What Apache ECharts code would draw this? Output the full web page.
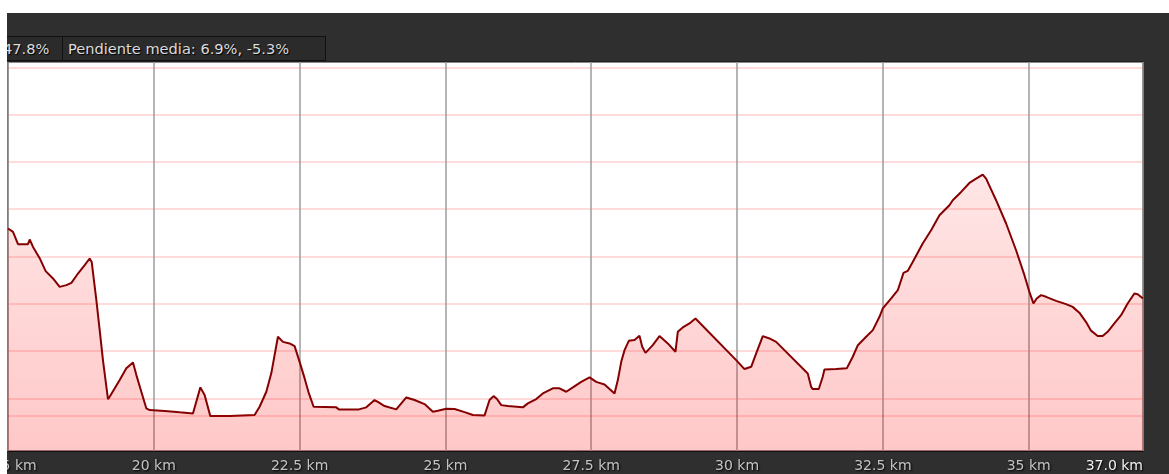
<!DOCTYPE html>
<html>
<head>
<meta charset="utf-8">
<script src="https://cdn.jsdelivr.net/npm/echarts@6/dist/echarts.min.js"></script>
<style>
  body { margin: 0; background: #fff; width: 1169px; height: 474px; overflow: hidden; position: relative; }
  #wrap { position: absolute; left: 7px; top: 13px; width: 1162px; height: 461px; background: #2f2f2f; }
  #chart { position: absolute; left: 0; top: 0; width: 1162px; height: 461px; }
  .box { position: absolute; top: 36px; height: 25px; background: #2b2b2b; border: 1px solid #111;
         color: #dcdcdc; font: 14.6px "DejaVu Sans", sans-serif; line-height: 23px; overflow: hidden;
         white-space: nowrap; text-shadow: 1px 1px 1px #000; box-sizing: border-box; }
  #b1 { left: 7px; width: 56px; border-left: none; }
  #b1 span { position: absolute; left: -4px; }
  #b2 { left: 62px; width: 264px; padding-left: 5px; }
</style>
</head>
<body>
<div id="wrap"><div id="chart"></div></div>
<div class="box" id="b1"><span>47.8%</span></div>
<div class="box" id="b2">Pendiente media: 6.9%, -5.3%</div>
<script>
// distancia (km) y altitud (m) del perfil
var distKm = [17.5, 17.586, 17.671, 17.843, 17.872, 17.929, 18.043, 18.146, 18.271, 18.386,
  18.501, 18.587, 18.7, 18.815, 18.9, 18.935, 19.015, 19.072, 19.128, 19.214,
  19.243, 19.415, 19.529, 19.643, 19.701, 19.786, 19.872, 19.929, 20.186, 20.443,
  20.671, 20.798, 20.871, 20.969, 21.3, 21.329, 21.728, 21.814, 21.929, 22.015,
  22.128, 22.214, 22.328, 22.414, 22.5, 22.586, 22.659, 22.74, 23.129, 23.173,
  23.516, 23.643, 23.785, 23.842, 23.956, 24.157, 24.329, 24.471, 24.642, 24.785,
  24.87, 25.014, 25.157, 25.328, 25.47, 25.671, 25.756, 25.825, 25.881, 25.957,
  26.07, 26.327, 26.413, 26.557, 26.67, 26.756, 26.841, 26.956, 27.071, 27.185,
  27.328, 27.471, 27.585, 27.728, 27.899, 27.956, 28.014, 28.071, 28.144, 28.242,
  28.327, 28.374, 28.43, 28.555, 28.67, 28.812, 28.944, 28.984, 29.069, 29.184,
  29.287, 29.985, 30.127, 30.242, 30.328, 30.441, 30.556, 30.67, 31.212, 31.27,
  31.298, 31.401, 31.469, 31.498, 31.699, 31.881, 31.984, 32.071, 32.213, 32.328,
  32.442, 32.499, 32.643, 32.756, 32.854, 32.926, 33.012, 33.183, 33.327, 33.47,
  33.641, 33.698, 33.842, 33.984, 34.099, 34.212, 34.27, 34.441, 34.613, 34.784,
  34.927, 35.012, 35.081, 35.137, 35.213, 35.298, 35.47, 35.641, 35.754, 35.869,
  35.984, 36.069, 36.183, 36.268, 36.354, 36.469, 36.584, 36.697, 36.812, 36.869, 36.96];
var elevM = [223.7, 220.8, 210.4, 210.4, 214.4, 208.1, 198.6, 187.6, 181.4, 174.3,
  175.8, 177.7, 185.6, 192.7, 198.3, 195.4, 163.1, 137.7, 112.4, 79.4,
  81.4, 95.5, 105.4, 110.4, 99.7, 85.6, 71.5, 70.1, 69.3, 68.2,
  67.3, 89.3, 82.8, 65.0, 65.0, 65.9, 65.9, 72.9, 85.6, 101.4,
  132.1, 127.8, 126.5, 124.2, 110.9, 96.9, 84.2, 72.9, 72.4, 70.7,
  70.7, 72.4, 78.6, 77.1, 73.5, 70.7, 80.8, 78.6, 75.2, 68.7,
  69.5, 71.2, 71.0, 68.4, 65.9, 65.6, 78.6, 81.9, 79.7, 74.3,
  73.5, 72.4, 75.8, 79.4, 84.2, 86.4, 88.5, 88.5, 85.6, 89.3,
  94.0, 97.7, 94.0, 91.8, 84.2, 95.5, 110.9, 120.8, 128.7, 129.3,
  132.9, 123.6, 118.5, 125.0, 132.7, 126.5, 119.4, 136.3, 140.0, 143.4,
  147.6, 112.4, 104.8, 106.7, 118.0, 132.7, 130.7, 127.8, 101.1, 89.8,
  87.9, 87.9, 98.3, 104.5, 104.8, 105.4, 115.2, 125.0, 132.1, 137.7,
  149.0, 156.1, 164.5, 171.5, 186.1, 187.8, 195.4, 211.0, 222.2, 234.9,
  243.4, 247.6, 254.6, 262.2, 265.9, 269.3, 265.9, 247.6, 227.9, 205.3,
  184.2, 170.1, 160.3, 164.5, 167.3, 165.9, 162.5, 159.7, 157.4, 152.5,
  144.5, 137.3, 132.7, 132.7, 136.3, 143.4, 150.4, 160.3, 168.7, 168.1, 164.5];
// lineas horizontales de la rejilla (m)
var elevGrid = [80, 120, 160, 200, 240, 280, 320, 360];
var kmMin = 17.5, kmMax = 36.96, kmStep = 2.5;
var elevMin = 35.5, elevMax = 364.5;

var profile = distKm.map(function (d, i) { return [d, elevM[i]]; });

var chart = echarts.init(document.getElementById('chart'));
var option = {
  animation: false,
  backgroundColor: 'transparent',
  grid: {
    left: 1, right: 26, top: 49, bottom: 23,
    containLabel: false,
    outerBoundsMode: 'none',
    show: true, backgroundColor: '#fff', borderColor: '#151515', borderWidth: 1
  },
  xAxis: {
    type: 'value',
    min: kmMin,
    max: kmMax,
    interval: kmStep,
    axisLine: { lineStyle: { color: '#111', width: 1 } },
    axisTick: { show: false },
    splitLine: { lineStyle: { color: '#9c9c9c', width: 1.5 } },
    axisLabel: {
      margin: 8,
      color: '#c4c4c4',
      fontFamily: 'DejaVu Sans',
      fontSize: 14,
      textShadowColor: '#000',
      textShadowBlur: 2,
      textShadowOffsetX: 1,
      textShadowOffsetY: 1,
      showMinLabel: true,
      showMaxLabel: true,
      alignMaxLabel: 'right',
      formatter: function (v) {
        if (v === kmMax) return '{end|' + v.toFixed(1) + ' km}';
        return v + ' km';
      },
      rich: {
        end: { color: '#f2f2f2', fontFamily: 'DejaVu Sans', fontSize: 14 }
      }
    }
  },
  yAxis: {
    type: 'value',
    min: elevMin,
    max: elevMax,
    axisLine: { show: false },
    axisLabel: { show: false },
    axisTick: { show: false, customValues: elevGrid },
    splitLine: { lineStyle: { color: 'rgba(255,0,0,0.14)', width: 2 } }
  },
  series: [{
    type: 'line',
    data: profile,
    symbol: 'none',
    lineStyle: { color: '#850000', width: 2 },
    areaStyle: {
      origin: 'start',
      color: new echarts.graphic.LinearGradient(0, 0, 0, 1, [
        { offset: 0, color: 'rgba(255,0,0,0.14)' },
        { offset: 1, color: 'rgba(255,0,0,0.31)' }
      ])
    },
    markLine: {
      silent: true,
      symbol: 'none',
      label: { show: false },
      lineStyle: { color: 'rgba(255,0,0,0.14)', width: 2, type: 'solid' },
      data: [{ type: 'min', valueDim: 'y' }]
    }
  }]
};
chart.setOption(option);
</script>
</body>
</html>
